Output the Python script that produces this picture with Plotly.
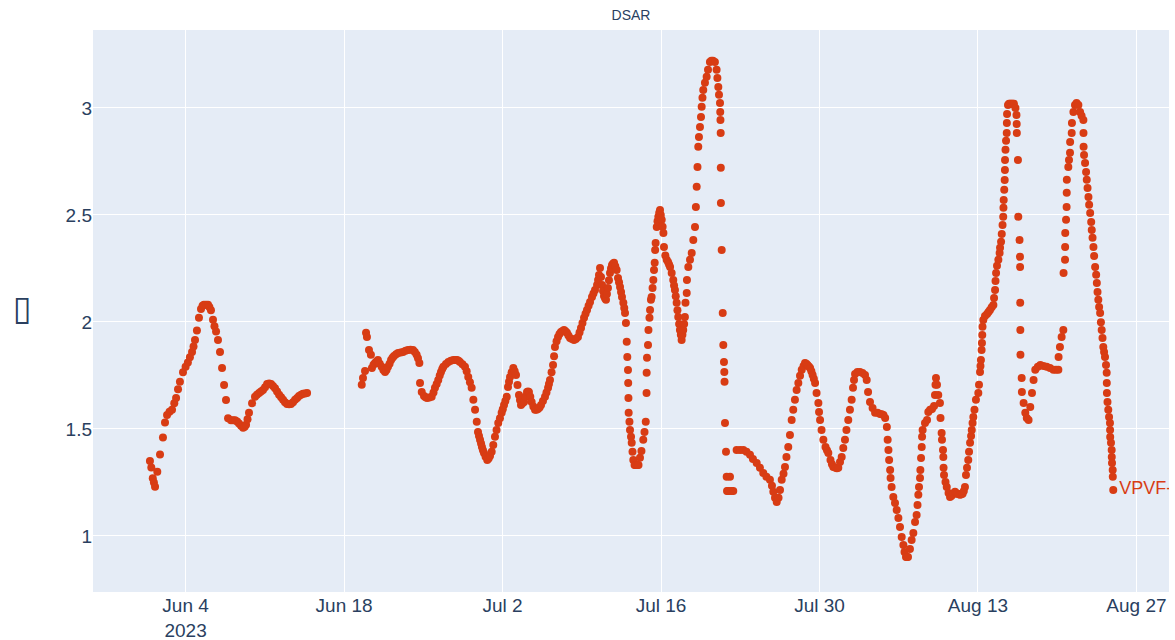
import pandas as pd
import plotly.graph_objects as go

# DSAR readings, time given in fractional days since 2023-06-01 00:00
early_june_days = [-0.15, -0.03, 0.1, 0.2, 0.3, 0.5, 0.74, 1.0, 1.18, 1.36, 1.58, 1.8, 2.0, 2.16, 2.33,
                   2.5, 2.77, 3.0, 3.2, 3.38, 3.57, 3.7, 3.83, 4.0, 4.18, 4.36, 4.5, 4.62, 4.8, 4.98,
                   5.1, 5.24, 5.42, 5.55, 5.69, 5.86, 6.04, 6.22, 6.4, 6.57, 6.75, 7.01, 7.2, 7.37,
                   7.55, 7.72, 7.9, 8.08, 8.22, 8.34, 8.47, 8.6, 8.87, 9.13, 9.3, 9.49, 9.66, 9.84,
                   10.02, 10.2, 10.38, 10.55, 10.72, 10.9, 11.08, 11.26, 11.44, 11.61, 11.78, 11.96,
                   12.14, 12.31, 12.49, 12.67, 12.85, 13.02, 13.2, 13.37, 13.55, 13.73]
early_june_vals = [1.35, 1.32, 1.27, 1.25, 1.23, 1.30, 1.38, 1.46, 1.53, 1.565, 1.58, 1.59, 1.62, 1.645,
                   1.685, 1.72, 1.765, 1.79, 1.81, 1.835, 1.86, 1.885, 1.915, 1.96, 2.02, 2.06, 2.075,
                   2.08, 2.08, 2.08, 2.07, 2.055, 2.01, 1.98, 1.955, 1.915, 1.86, 1.785, 1.705, 1.635,
                   1.55, 1.54, 1.54, 1.54, 1.535, 1.525, 1.515, 1.505, 1.51, 1.52, 1.545, 1.575, 1.62,
                   1.65, 1.66, 1.668, 1.675, 1.682, 1.695, 1.71, 1.712, 1.71, 1.70, 1.69, 1.675, 1.66,
                   1.648, 1.636, 1.625, 1.617, 1.615, 1.617, 1.625, 1.636, 1.645, 1.654, 1.66, 1.664,
                   1.666, 1.668]

summer_days = [18.56, 18.67, 18.85, 18.94, 19.02, 19.2, 19.37, 19.46, 19.6, 19.73, 19.86, 19.99, 20.15,
               20.32, 20.47, 20.62, 20.75, 20.88, 21.02, 21.15, 21.28, 21.41, 21.6, 21.77, 22.0, 22.21,
               22.43, 22.65, 22.87, 23.09, 23.25, 23.41, 23.53, 23.65, 23.71, 23.86, 24.06, 24.2, 24.33,
               24.53, 24.74, 24.9, 25.03, 25.18, 25.32, 25.45, 25.56, 25.67, 25.77, 26.0, 26.21, 26.43,
               26.65, 26.82, 26.98, 27.11, 27.24, 27.46, 27.68, 27.83, 27.97, 28.12, 28.27, 28.42,
               28.57, 28.72, 28.83, 28.92, 29.01, 29.1, 29.18, 29.27, 29.36, 29.5, 29.65, 29.77, 29.89,
               30.04, 30.18, 30.33, 30.47, 30.62, 30.77, 30.92, 31.02, 31.13, 31.25, 31.37, 31.48,
               31.57, 31.66, 31.8, 31.95, 32.07, 32.19, 32.32, 32.45, 32.54, 32.63, 32.76, 32.9, 33.03,
               33.16, 33.25, 33.33, 33.45, 33.57, 33.72, 33.87, 34.0, 34.13, 34.27, 34.4, 34.57, 34.75,
               34.88, 35.02, 35.1, 35.19, 35.33, 35.46, 35.55, 35.63, 35.77, 35.9, 36.03, 36.16, 36.3,
               36.43, 36.56, 36.69, 36.82, 36.96, 37.13, 37.31, 37.48, 37.66, 37.8, 37.93, 38.06, 38.2,
               38.33, 38.46, 38.6, 38.73, 38.9, 39.03, 39.17, 39.35, 39.44, 39.52, 39.61, 39.7, 39.79,
               39.88, 39.96, 40.05, 40.14, 40.22, 40.31, 40.4, 40.49, 40.58, 40.67, 40.76, 40.85,
               40.96, 41.08, 41.2, 41.29, 41.38, 41.47, 41.55, 41.67, 41.75, 41.82, 41.9, 41.97, 42.02,
               42.08, 42.1, 42.12, 42.14, 42.21, 42.26, 42.35, 42.41, 42.48, 42.55, 42.66, 42.75,
               42.83, 42.92, 43.01, 43.14, 43.27, 43.43, 43.54, 43.65, 43.72, 43.73, 43.76, 43.85,
               43.89, 43.98, 44.03, 44.11, 44.17, 44.25, 44.32, 44.38, 44.44, 44.48, 44.52, 44.62,
               44.69, 44.76, 44.84, 44.91, 44.98, 45.06, 45.14, 45.21, 45.26, 45.38, 45.5, 45.62,
               45.71, 45.8, 45.94, 46.08, 46.15, 46.23, 46.3, 46.38, 46.45, 46.52, 46.6, 46.67, 46.75,
               46.82, 46.89, 46.96, 47.04, 47.11, 47.16, 47.27, 47.29, 47.41, 47.56, 47.71, 47.85,
               48.0, 48.08, 48.15, 48.22, 48.29, 48.35, 48.44, 48.53, 48.59, 48.66, 48.73, 48.88,
               49.03, 49.15, 49.32, 49.45, 49.59, 49.76, 49.91, 49.98, 50.06, 50.12, 50.21, 50.23,
               50.25, 50.27, 50.28, 50.29, 50.36, 50.45, 50.5, 50.56, 50.59, 50.61, 50.65, 50.74,
               50.8, 50.83, 50.92, 51.0, 51.09, 51.22, 51.38]
summer_vals = [1.706, 1.738, 1.771, 1.949, 1.93, 1.869, 1.846, 1.785, 1.80, 1.808, 1.815, 1.822, 1.805,
               1.79, 1.775, 1.766, 1.775, 1.79, 1.805, 1.822, 1.833, 1.841, 1.849, 1.855, 1.857, 1.86,
               1.865, 1.869, 1.87, 1.869, 1.86, 1.846, 1.83, 1.808, 1.715, 1.673, 1.654, 1.648, 1.645,
               1.647, 1.65, 1.67, 1.692, 1.71, 1.729, 1.75, 1.766, 1.78, 1.79, 1.803, 1.813, 1.818,
               1.822, 1.822, 1.822, 1.818, 1.813, 1.802, 1.79, 1.77, 1.743, 1.718, 1.692, 1.636,
               1.589, 1.533, 1.486, 1.467, 1.449, 1.432, 1.416, 1.40, 1.388, 1.37, 1.355, 1.362, 1.374,
               1.393, 1.425, 1.463, 1.495, 1.528, 1.55, 1.575, 1.592, 1.612, 1.63, 1.65, 1.696,
               1.72, 1.743, 1.765, 1.785, 1.77, 1.752, 1.705, 1.659, 1.635, 1.612, 1.62, 1.626, 1.65,
               1.673, 1.675, 1.673, 1.65, 1.626, 1.605, 1.589, 1.59, 1.593, 1.60, 1.612, 1.63, 1.65,
               1.67, 1.692, 1.71, 1.729, 1.765, 1.799, 1.84, 1.883, 1.91, 1.93, 1.943, 1.953, 1.958,
               1.962, 1.956, 1.949, 1.937, 1.925, 1.92, 1.916, 1.92, 1.93, 1.95, 1.972, 1.995, 2.019,
               2.038, 2.056, 2.075, 2.093, 2.117, 2.133, 2.149, 2.173, 2.196, 2.219, 2.252, 2.21, 2.173,
               2.145, 2.121, 2.11, 2.103, 2.13, 2.159, 2.195, 2.229, 2.25, 2.266, 2.272, 2.276,
               2.26, 2.243, 2.205, 2.185, 2.163, 2.14, 2.117, 2.089, 2.065, 2.042, 1.995, 1.907, 1.836,
               1.775, 1.715, 1.645, 1.575, 1.533, 1.495, 1.463, 1.435, 1.393, 1.355, 1.332, 1.332,
               1.332, 1.332, 1.332, 1.365, 1.397, 1.449, 1.486, 1.533, 1.668, 1.762, 1.832, 1.892,
               1.962, 2.019, 2.056, 2.103, 2.117, 2.159, 2.196, 2.243, 2.276, 2.336, 2.369, 2.444,
               2.47, 2.491, 2.51, 2.523, 2.50, 2.477, 2.445, 2.416, 2.35, 2.31, 2.29, 2.28,
               2.268, 2.257, 2.229, 2.196, 2.17, 2.149, 2.12, 2.089, 2.055, 2.023, 1.99, 1.962, 1.94,
               1.916, 1.94, 1.962, 1.99, 2.023, 2.089, 2.135, 2.196, 2.257, 2.29, 2.322, 2.383,
               2.444, 2.537, 2.631, 2.724, 2.818, 2.864, 2.911, 2.958, 3.005, 3.047, 3.084, 3.117,
               3.145, 3.178, 3.215, 3.22, 3.22, 3.215, 3.178, 3.14, 3.098, 3.061, 3.023, 2.981,
               2.944, 2.883, 2.72, 2.556, 2.336, 2.042, 1.892, 1.813, 1.766, 1.72, 1.528, 1.393,
               1.276, 1.21, 1.21, 1.21, 1.276, 1.21, 1.21]

late_july_days = [51.68, 51.98, 52.27, 52.55, 52.86, 53.12, 53.45, 53.74, 54.03, 54.31, 54.62, 54.8,
                  54.92, 55.07, 55.22, 55.38, 55.51, 55.66, 55.82, 55.95, 56.08, 56.24, 56.39, 56.54,
                  56.68, 56.83, 56.98, 57.13, 57.28, 57.43, 57.59, 57.72, 57.83, 57.94, 58.06, 58.17,
                  58.28, 58.39, 58.5, 58.61, 58.74, 58.9, 58.96, 59.05, 59.18, 59.34, 59.53, 59.66,
                  59.78, 59.97, 60.1, 60.22, 60.42, 60.54, 60.66, 60.81, 60.96, 61.1, 61.25, 61.38,
                  61.54, 61.69, 61.84, 61.96, 62.05, 62.14, 62.35, 62.58, 62.8, 63.02, 63.17, 63.29,
                  63.46, 63.69, 63.91, 64.13, 64.35, 64.5, 64.65, 64.8, 64.95, 65.02, 65.09, 65.15,
                  65.24, 65.28, 65.37, 65.52, 65.67, 65.82, 65.97, 66.11, 66.26, 66.41, 66.51, 66.64,
                  66.73, 66.82, 66.99, 67.14, 67.29, 67.44, 67.58, 67.66, 67.73, 67.79, 67.88, 67.91,
                  67.97, 68.03, 68.06, 68.11, 68.32, 68.5, 68.61, 68.77, 68.94, 69.12, 69.2, 69.25,
                  69.29, 69.38, 69.49, 69.64, 69.69, 69.79, 69.82, 69.91, 69.94, 69.96, 70.0, 70.13,
                  70.24, 70.4, 70.53, 70.64, 70.75, 70.86, 70.97, 71.08, 71.2, 71.31, 71.42, 71.53,
                  71.64, 71.75, 71.85, 71.94, 72.03, 72.14, 72.21, 72.3, 72.39, 72.45, 72.52, 72.59,
                  72.69, 72.82, 73.03]
late_july_vals = [1.402, 1.402, 1.402, 1.393, 1.379, 1.36, 1.341, 1.318, 1.294, 1.276, 1.262, 1.234,
                  1.206, 1.178, 1.159, 1.178, 1.215, 1.262, 1.29, 1.322, 1.369, 1.416, 1.472, 1.542,
                  1.589, 1.636, 1.682, 1.715, 1.748, 1.776, 1.794, 1.808, 1.805, 1.799, 1.792, 1.785,
                  1.77, 1.752, 1.735, 1.715, 1.668, 1.621, 1.579, 1.542, 1.495, 1.449, 1.416, 1.40,
                  1.388, 1.355, 1.335, 1.322, 1.318, 1.316, 1.318, 1.346, 1.369, 1.411, 1.449, 1.495,
                  1.542, 1.589, 1.636, 1.692, 1.729, 1.757, 1.766, 1.766, 1.761, 1.752, 1.729, 1.673,
                  1.626, 1.598, 1.575, 1.575, 1.57, 1.568, 1.565, 1.551, 1.509, 1.449, 1.402, 1.355,
                  1.308, 1.271, 1.229, 1.182, 1.154, 1.121, 1.084, 1.042, 0.995, 0.958, 0.925, 0.902,
                  0.902, 0.902, 0.939, 0.981, 1.014, 1.065, 1.098, 1.145, 1.192, 1.229, 1.271, 1.308,
                  1.364, 1.416, 1.463, 1.495, 1.528, 1.542, 1.579, 1.589, 1.593, 1.607, 1.659, 1.706,
                  1.738, 1.706, 1.659, 1.621, 1.551, 1.481, 1.449, 1.402, 1.369, 1.318, 1.285, 1.252,
                  1.229, 1.201, 1.182, 1.187, 1.192, 1.20, 1.206, 1.20, 1.197, 1.195, 1.192, 1.195,
                  1.197, 1.21, 1.229, 1.285, 1.318, 1.355, 1.393, 1.435, 1.467, 1.495, 1.528, 1.556,
                  1.589, 1.636, 1.668]

august_days = [73.09, 73.18, 73.22, 73.26, 73.32, 73.35, 73.38, 73.4, 73.47, 73.62, 73.8, 73.93, 74.06,
               74.21, 74.36, 74.42, 74.51, 74.55, 74.6, 74.68, 74.8, 74.91, 74.95, 75.04, 75.1, 75.17,
               75.23, 75.25, 75.27, 75.32, 75.36, 75.38, 75.39, 75.43, 75.48, 75.54, 75.55, 75.57,
               75.65, 75.74, 75.83, 75.92, 76.0, 76.09, 76.18, 76.31, 76.4, 76.42, 76.43, 76.53, 76.56,
               76.67, 76.71, 76.72, 76.73, 76.74, 76.75, 76.86, 76.88, 77.03, 77.18, 77.31, 77.47,
               77.62, 77.77, 77.91, 78.06, 78.29, 78.51, 78.78, 79.07, 79.36, 79.66, 79.89, 80.1,
               80.12, 80.24, 80.39, 80.54, 80.56, 80.69, 80.7, 80.71, 80.78, 80.83, 80.84, 80.85,
               80.98, 81.04, 81.13, 81.14, 81.28, 81.3, 81.43, 81.57, 81.71, 81.87, 82.02, 82.15,
               82.31, 82.32, 82.33, 82.37, 82.46, 82.55, 82.61, 82.68, 82.76, 82.82, 82.91, 83.0,
               83.05, 83.12, 83.2, 83.26, 83.35, 83.44, 83.5, 83.56, 83.63, 83.7, 83.79, 83.86, 83.93,
               84.0, 84.07, 84.14, 84.22, 84.31, 84.37, 84.38, 84.39, 84.44, 84.51, 84.58, 84.66,
               84.67, 84.68, 84.75, 84.81, 84.82, 84.84, 84.9, 84.91, 84.95]
august_vals = [1.706, 1.766, 1.794, 1.822, 1.869, 1.902, 1.939, 1.977, 2.009, 2.028, 2.037, 2.046, 2.056,
               2.068, 2.079, 2.112, 2.149, 2.191, 2.229, 2.262, 2.29, 2.322, 2.346, 2.374, 2.411, 2.453,
               2.491, 2.533, 2.57, 2.617, 2.663, 2.71, 2.757, 2.804, 2.846, 2.883, 2.93, 2.972,
               3.014, 3.019, 3.019, 3.019, 3.019, 3.019, 3.019, 3.0, 2.967, 2.925, 2.883, 2.757, 2.491,
               2.383, 2.304, 2.257, 2.089, 1.962, 1.846, 1.738, 1.673, 1.621, 1.575, 1.551, 1.542,
               1.603, 1.668, 1.729, 1.776, 1.79, 1.799, 1.794, 1.79, 1.785, 1.776, 1.776, 1.776,
               1.836, 1.883, 1.93, 1.962, 2.229, 2.29, 2.35, 2.416, 2.477, 2.537, 2.603, 2.664,
               2.724, 2.757, 2.79, 2.841, 2.883, 2.93, 2.981, 3.014, 3.023, 3.014, 2.981, 2.963,
               2.944, 2.883, 2.818, 2.78, 2.743, 2.701, 2.664, 2.626, 2.584, 2.547, 2.509, 2.467,
               2.43, 2.393, 2.35, 2.308, 2.257, 2.22, 2.182, 2.14, 2.103, 2.07, 2.042, 1.999, 1.962,
               1.925, 1.883, 1.86, 1.836, 1.799, 1.762, 1.715, 1.668, 1.626, 1.589, 1.556, 1.528,
               1.495, 1.462, 1.435, 1.402, 1.369, 1.341, 1.308, 1.276, 1.215]

series_name = "VPVF-"
start = pd.Timestamp("2023-06-01")

days = early_june_days + summer_days + late_july_days + august_days
vals = early_june_vals + summer_vals + late_july_vals + august_vals
times = start + pd.to_timedelta(days, unit="D")

marker_color = "#d83c14"
labels = [""] * (len(vals) - 1) + [series_name]

fig = go.Figure(
    go.Scatter(
        x=times,
        y=vals,
        mode="markers+text",
        text=labels,
        textposition="middle right",
        textfont=dict(color=marker_color, size=18, family="Liberation Sans, Arial, sans-serif"),
        marker=dict(color=marker_color, size=8),
        name=series_name,
        showlegend=False,
    )
)

fig.update_layout(
    width=1175,
    height=640,
    template="plotly",
    font=dict(family="Liberation Sans, Arial, sans-serif", size=19, color="#2a3f5f"),
    title=dict(text="DSAR", x=0.5, xref="paper", y=0.977, yref="container", yanchor="middle",
               font=dict(size=14)),
    margin=dict(l=93, r=6, t=30, b=48),
    plot_bgcolor="#E5ECF6",
    paper_bgcolor="white",
)
fig.update_xaxes(
    range=["2023-05-26 19:40", "2023-08-29 21:00"],
    tick0="2023-06-04",
    dtick=14 * 86400000,
    gridcolor="white",
    gridwidth=1,
    showline=False,
    zeroline=False,
    automargin=False,
)
fig.update_yaxes(
    range=[0.738, 3.364],
    dtick=0.5,
    tick0=0,
    gridcolor="white",
    gridwidth=1,
    zeroline=False,
    automargin=False,
    title=dict(text="\u25ad", font=dict(size=34), standoff=28),
)

fig.write_html("out.html")
